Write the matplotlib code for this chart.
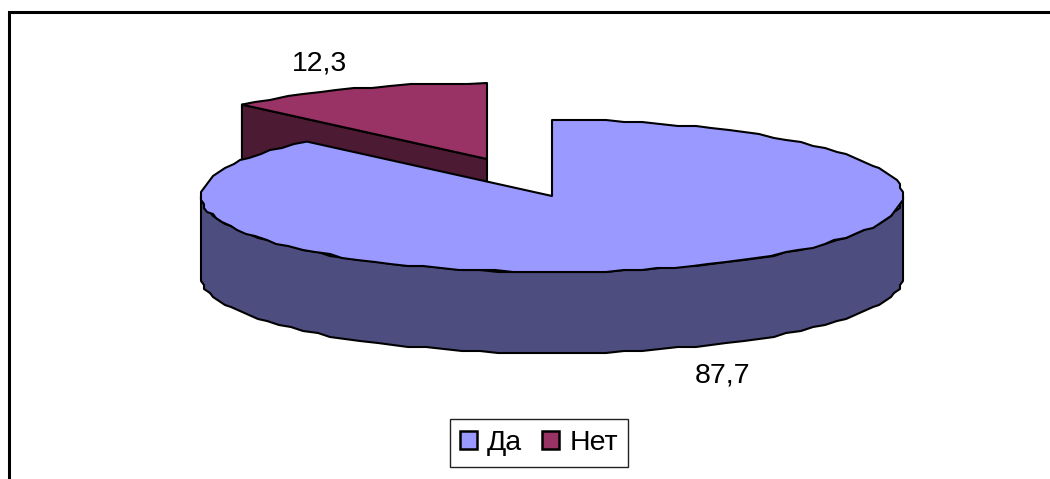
import matplotlib

matplotlib.use("Agg")
import matplotlib.pyplot as plt
import numpy as np
from matplotlib.patches import Patch, Polygon

categories = ["Да", "Нет"]
values = [87.7, 12.3]
value_labels = ["87,7", "12,3"]

plt.rcParams["font.family"] = ["Liberation Sans", "DejaVu Sans"]

CX, CY = 552, 196
RX, RY = 351, 76
DEPTH = 81
EXPLODE = (-65, -37)
FONT = 20.5


def rim(start, stop, cx, cy, step=3.0):
    # angles are clockwise from 12 o'clock, degrees; coarse snap gives the old office-chart jaggies
    n = max(int(abs(stop - start) / step), 2)
    t = np.radians(np.linspace(start, stop, n + 1))
    x = cx + RX * np.sin(t)
    y = cy - RY * np.cos(t)
    x[1:-1] = np.round(x[1:-1] / 3) * 3
    y[1:-1] = np.round(y[1:-1] / 2) * 2
    return np.column_stack([x, y])


def main() -> None:
    fig = plt.figure(figsize=(10.5, 4.79), dpi=100)
    ax = fig.add_axes([0, 0, 1, 1])
    ax.set_xlim(0, 1050)
    ax.set_ylim(479, 0)
    ax.axis("off")

    ax.plot([8.5, 8.5, 1050], [479, 11.5, 11.5], color="black", lw=2.2, solid_joinstyle="miter")

    split = 360 * values[0] / sum(values)
    edge = dict(edgecolor="black", lw=1.5, joinstyle="round")

    # small slice, pulled out of the pie, sits behind the big one
    sx, sy = CX + EXPLODE[0], CY + EXPLODE[1]
    rim_pt = rim(split, split, sx, sy)[0]
    cut = [(sx, sy), tuple(rim_pt), (rim_pt[0], rim_pt[1] + DEPTH), (sx, sy + DEPTH)]
    ax.add_patch(Polygon(cut, facecolor="#4D1A33", **edge))
    small_top = np.vstack([[(sx, sy)], rim(split, 360, sx, sy)])
    ax.add_patch(Polygon(small_top, facecolor="#993366", **edge))

    # big slice: front wall first, then top face
    front = rim(90, 270, CX, CY)
    wall = np.vstack([front, (front + [0, DEPTH])[::-1]])
    ax.add_patch(Polygon(wall, facecolor="#4D4D80", **edge))
    big_top = np.vstack([[(CX, CY)], rim(0, split, CX, CY)])
    ax.add_patch(Polygon(big_top, facecolor="#9999FF", **edge))

    ax.text(722, 375.5, value_labels[0], fontsize=FONT, ha="center", va="center", color="black")
    ax.text(320, 63, value_labels[1], fontsize=FONT, ha="center", va="center", color="black")

    handles = [
        Patch(facecolor="#9999FF", edgecolor="black", lw=1.8, label=categories[0]),
        Patch(facecolor="#993366", edgecolor="black", lw=1.8, label=categories[1]),
    ]
    leg = ax.legend(
        handles=handles,
        ncol=2,
        loc="center",
        bbox_to_anchor=(539, 443),
        bbox_transform=ax.transData,
        fontsize=FONT,
        fancybox=False,
        framealpha=1,
        edgecolor="#222222",
        handlelength=0.6,
        handleheight=0.6,
        handletextpad=0.35,
        columnspacing=0.7,
        borderpad=0.37,
        borderaxespad=0,
    )
    leg.get_frame().set_linewidth(1.0)

    fig.savefig("out.png", dpi=100)


if __name__ == "__main__":
    main()
